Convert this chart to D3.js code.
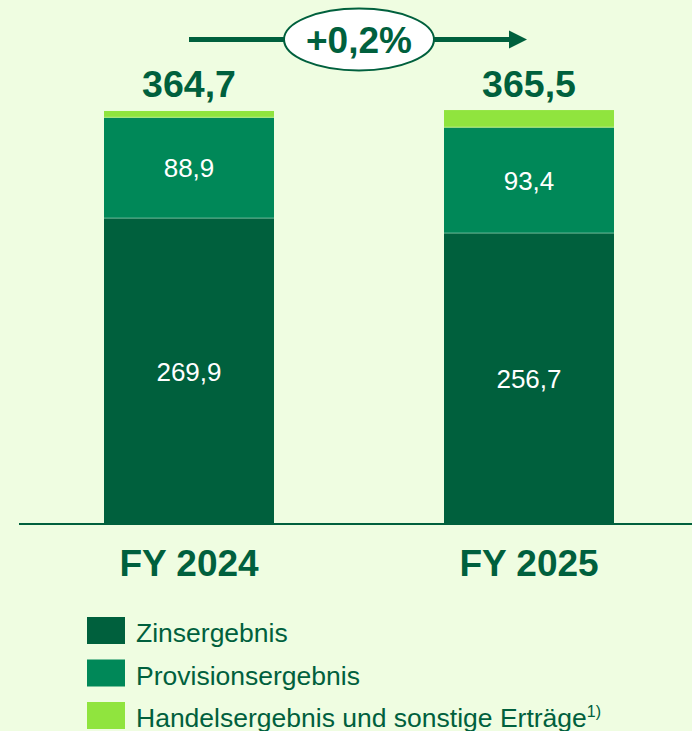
<!DOCTYPE html>
<html><head><meta charset="utf-8">
<script src="https://cdn.jsdelivr.net/npm/d3@7"></script>
<style>
html,body{margin:0;padding:0;background:#effde1;}
svg{display:block;font-family:"Liberation Sans",Arial,sans-serif;}
</style></head>
<body>
<svg id="c" width="692" height="731"></svg>
<script>
const categories = ["FY 2024", "FY 2025"];
const seriesNames = ["Zinsergebnis", "Provisionsergebnis", "Handelsergebnis und sonstige Erträge"];
const zins = [269.9, 256.7];
const provision = [88.9, 93.4];
const handel = [5.9, 15.4];
const totals = [364.7, 365.5];
const totalLabels = ["364,7", "365,5"];
const changeLabel = "+0,2%";
const colors = ["#00603d", "#008858", "#90e43e"];
const textColor = "#00603d";

const fmt = v => d3.format(".1f")(v).replace(".", ",");
const svg = d3.select("#c");
const W = 692;

const x = d3.scaleBand().domain(categories).range([19, 699]).paddingInner(0.5).paddingOuter(0.25);
const y = d3.scaleLinear().domain([0, 400]).range([524, 524 - 400 * 1.1325]);

const rows = categories.map((c, i) => ({cat: c, Zinsergebnis: zins[i], Provisionsergebnis: provision[i], "Handelsergebnis und sonstige Erträge": handel[i]}));
const stack = d3.stack().keys(seriesNames)(rows);

const g = svg.append("g");
stack.forEach((layer, li) => {
  g.selectAll(null).data(layer).enter().append("rect")
    .attr("x", d => x(d.data.cat))
    .attr("width", x.bandwidth())
    .attr("y", d => y(d[1]))
    .attr("height", d => y(d[0]) - y(d[1]))
    .attr("fill", colors[li]);
  if (li > 0) {
    g.selectAll(null).data(layer).enter().append("line")
      .attr("x1", d => x(d.data.cat)).attr("x2", d => x(d.data.cat) + x.bandwidth())
      .attr("y1", d => y(d[0]) - 0.5).attr("y2", d => y(d[0]) - 0.5)
      .attr("stroke", "rgba(255,255,255,0.25)").attr("stroke-width", 1);
  }
  if (li < 2) {
    g.selectAll(null).data(layer).enter().append("text")
      .attr("x", d => x(d.data.cat) + x.bandwidth() / 2)
      .attr("y", d => (y(d[0]) + y(d[1])) / 2)
      .attr("dy", "0.36em")
      .attr("text-anchor", "middle")
      .attr("fill", "#ffffff")
      .attr("font-size", 26)
      .text(d => fmt(d[1] - d[0]));
  }
});

// baseline axis
const xAxis = d3.axisBottom(x).tickSize(0).tickPadding(0);
const ax = svg.append("g").attr("transform", `translate(0,${y(0)})`).call(xAxis);
ax.select(".domain").attr("d", `M19,0H${W}`).attr("stroke", textColor).attr("stroke-width", 2);
ax.selectAll(".tick text").attr("dy", null).attr("y", 52)
  .attr("font-size", 37).attr("font-weight", "bold").attr("fill", textColor)
  .attr("font-family", "'Liberation Sans',Arial,sans-serif");

// totals
svg.selectAll(".tot").data(categories).enter().append("text")
  .attr("x", d => x(d) + x.bandwidth() / 2)
  .attr("y", 97)
  .attr("text-anchor", "middle")
  .attr("font-size", 37.5).attr("font-weight", "bold").attr("fill", textColor)
  .text((d, i) => totalLabels[i]);

// arrow
const ay = 39.5;
const ax1 = x(categories[0]) + x.bandwidth() / 2;
const ax2 = x(categories[1]) + x.bandwidth() / 2;
svg.append("line").attr("x1", ax1).attr("x2", ax2 - 20).attr("y1", ay).attr("y2", ay)
  .attr("stroke", textColor).attr("stroke-width", 5);
svg.append("path").attr("d", `M${ax2 - 20},${ay - 9}L${ax2 - 2},${ay}L${ax2 - 20},${ay + 9}Z`).attr("fill", textColor);
const ex = (ax1 + ax2) / 2;
svg.append("ellipse").attr("cx", ex).attr("cy", ay).attr("rx", 75).attr("ry", 31)
  .attr("fill", "#ffffff").attr("stroke", textColor).attr("stroke-width", 2);
svg.append("text").attr("x", ex).attr("y", 53).attr("text-anchor", "middle")
  .attr("font-size", 37).attr("font-weight", "bold").attr("fill", textColor).text(changeLabel);

// legend
const lg = svg.append("g").attr("transform", "translate(87,617)");
seriesNames.forEach((s, i) => {
  const row = lg.append("g").attr("transform", `translate(0,${i * 42.5})`);
  row.append("rect").attr("width", 38).attr("height", 27).attr("fill", colors[i]);
  const t = row.append("text").attr("x", 49).attr("y", 25).attr("font-size", 26.5).attr("fill", textColor).text(s);
  if (i === 2) t.append("tspan").attr("font-size", 16).attr("dy", -10).text("1)");
});
</script>
</body></html>
